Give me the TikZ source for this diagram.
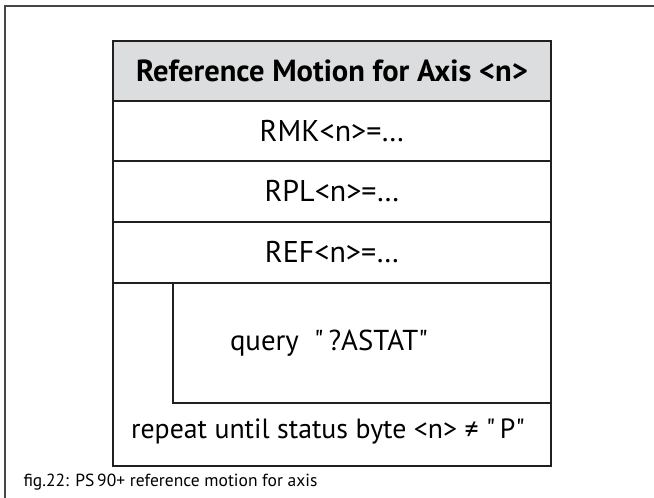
\documentclass[tikz,border=0pt]{standalone}
\usepackage{fontspec}
\setmainfont{PT Sans}
\usepackage{tikz}
\usetikzlibrary{positioning}
\definecolor{linegray}{RGB}{35, 31, 32}
\definecolor{headgray}{RGB}{220, 221, 222}
\definecolor{framegray}{RGB}{70, 70, 70}

\begin{document}
\begin{tikzpicture}[x=1pt, y=-1pt,
  cell/.style={draw=linegray, line width=2.6pt, minimum width=438pt, inner sep=0pt, font=\fontsize{30}{34}\selectfont},
  looptext/.style={font=\fontsize{28.8}{32}\selectfont},
  frameline/.style={draw=framegray, line width=1.8pt}]
  \useasboundingbox (0,0) rectangle (654,498);

  % Frame
  \draw[frameline] (5,498) -- (5,6) -- (654,6);

  % Loop body
  \node[cell, minimum height=183pt] (loop) at (332,374.5) {};
  \node[cell, minimum width=378pt, minimum height=120pt] (body) at (362,343) {};
  \node[looptext] (query) at (329,343) {query\ \ \textquotedbl\,?ASTAT\textquotedbl};
  \node[looptext, font=\fontsize{27.8}{32}\selectfont] (until) at (328,432) {repeat until status byte <n> ≠ \textquotedbl\,P\textquotedbl};

  % Header and rows
  \node[cell, fill=headgray, minimum height=60pt, font=\bfseries\fontsize{30.5}{34}\selectfont] (head) at (332,71) {Reference Motion for Axis <n>};
  \node[cell, minimum height=60pt] (rmk) at (332,131) {RMK<n>=…};
  \node[cell, minimum height=61pt] (rpl) at (332,191.5) {RPL<n>=…};
  \node[cell, minimum height=61pt] (ref) at (332,252.5) {REF<n>=…};

  % Caption
  \node[anchor=west, font=\fontsize{17.5}{20}\selectfont] (caption) at (20,482) {fig.22: PS\,90+ reference motion for axis};
\end{tikzpicture}
\end{document}
